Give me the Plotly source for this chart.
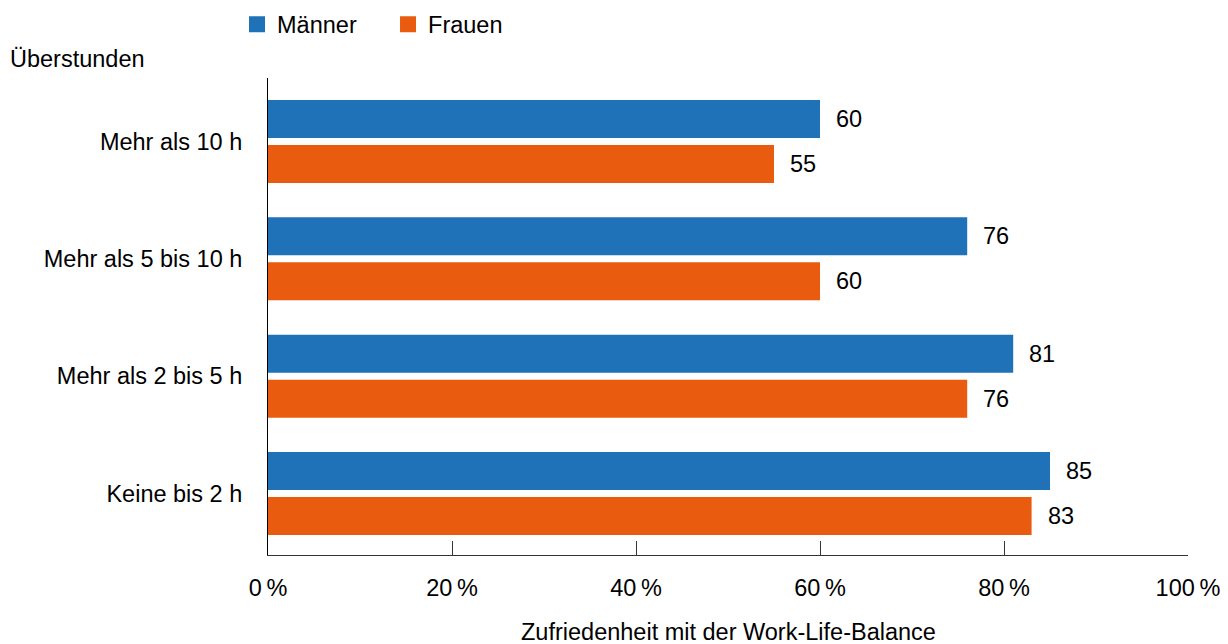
import plotly.graph_objects as go

categories = ["Keine bis 2 h", "Mehr als 2 bis 5 h", "Mehr als 5 bis 10 h", "Mehr als 10 h"]
maenner = [85, 81, 76, 60]
frauen = [83, 76, 60, 55]
tick_values = [0, 20, 40, 60, 80, 100]
tick_labels = ["0\u2009%", "20\u2009%", "40\u2009%", "60\u2009%", "80\u2009%", "100\u2009%"]

BLUE = "#1f71b8"
ORANGE = "#e95b0e"
FONT = "Liberation Sans, Arial, sans-serif"
FS = 23.5

fig = go.Figure()
# Frauen first so that it sits below Männer inside each group
fig.add_trace(go.Bar(y=categories, x=frauen, orientation="h", name="Frauen",
                     marker=dict(color=ORANGE, line=dict(width=0)), showlegend=False))
fig.add_trace(go.Bar(y=categories, x=maenner, orientation="h", name="Männer",
                     marker=dict(color=BLUE, line=dict(width=0)), showlegend=False))
# legend entries
fig.add_trace(go.Scatter(x=[None], y=[None], mode="markers", name="Männer",
                         marker=dict(symbol="square", size=18, color=BLUE), legendrank=1))
fig.add_trace(go.Scatter(x=[None], y=[None], mode="markers", name="Frauen",
                         marker=dict(symbol="square", size=18, color=ORANGE), legendrank=2))

annotations = []
for c, m, f in zip(categories, maenner, frauen):
    annotations.append(dict(x=m, y=c, xref="x", yref="y", text=str(m), showarrow=False,
                            xanchor="left", yanchor="middle", xshift=14, yshift=22.5,
                            font=dict(size=FS, color="#000", family=FONT)))
    annotations.append(dict(x=f, y=c, xref="x", yref="y", text=str(f), showarrow=False,
                            xanchor="left", yanchor="middle", xshift=14, yshift=-22.5,
                            font=dict(size=FS, color="#000", family=FONT)))
annotations.append(dict(x=-0.2826, y=1.0398, xref="paper", yref="paper", text="Überstunden",
                        showarrow=False, xanchor="left", yanchor="middle",
                        font=dict(size=FS, color="#000", family=FONT)))
annotations.append(dict(x=0.5, y=-0.1614, xref="paper", yref="paper",
                        text="Zufriedenheit mit der Work-Life-Balance",
                        showarrow=False, xanchor="center", yanchor="middle",
                        font=dict(size=FS, color="#000", family=FONT)))

fig.update_layout(
    width=1228, height=644,
    margin=dict(l=260, r=48, t=70, b=97),
    paper_bgcolor="white", plot_bgcolor="white",
    barmode="group", bargap=0.233, bargroupgap=0.156,
    font=dict(family=FONT, size=FS, color="#000"),
    annotations=annotations,
    legend=dict(orientation="h", xref="container", yref="container",
                x=0.1865, y=0.9744, xanchor="left", yanchor="middle",
                entrywidth=106, entrywidthmode="pixels",
                font=dict(size=FS, family=FONT, color="#000"),
                itemclick=False, itemdoubleclick=False),
    showlegend=True,
)
fig.update_xaxes(range=[0, 100], tickvals=tick_values, ticktext=tick_labels,
                 ticks="inside", ticklen=14, tickcolor="#333", tickwidth=1,
                 showline=True, linecolor="#333", linewidth=1,
                 showgrid=False, zeroline=False, ticklabelstandoff=12,
                 tickfont=dict(size=FS, family=FONT, color="#000"))
fig.update_yaxes(categoryorder="array", categoryarray=categories,
                 range=[-0.524, 3.541], showline=True, linecolor="#000", linewidth=1,
                 showgrid=False, zeroline=False, ticks="", ticklabelstandoff=20,
                 tickfont=dict(size=FS, family=FONT, color="#000"))

fig.write_html("out.html")
